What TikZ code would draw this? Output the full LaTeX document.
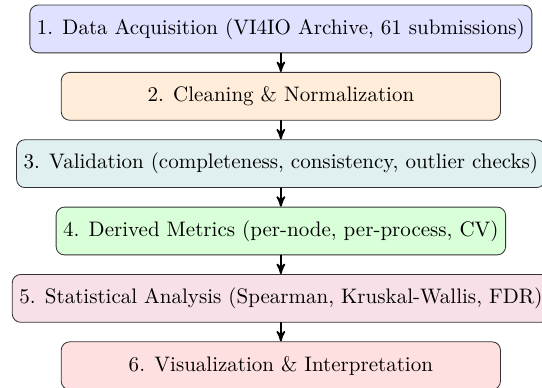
\documentclass[tikz,border=0pt]{standalone}
\usepackage{xcolor}
\usetikzlibrary{arrows}

\begin{document}
\begin{tikzpicture}[line cap=round,line join=round,>=stealth',
  stage/.style={draw=black!80,rounded corners=4pt,minimum width=7.35cm,minimum height=0.8cm}]
\useasboundingbox (-4.70,0.485) rectangle (4.37,-5.995);
\node[stage,fill=blue!12] (acq) at (0,0) {1. Data Acquisition (VI4IO Archive, 61 submissions)};
\node[stage,fill=orange!15] (clean) at (0,-1.127) {2. Cleaning \& Normalization};
\node[stage,fill=teal!12] (valid) at (0,-2.254) {3. Validation (completeness, consistency, outlier checks)};
\node[stage,fill=green!15] (metrics) at (0,-3.381) {4. Derived Metrics (per-node, per-process, CV)};
\node[stage,fill=purple!12] (stats) at (0,-4.508) {5. Statistical Analysis (Spearman, Kruskal-Wallis, FDR)};
\node[stage,fill=red!12] (vis) at (0,-5.635) {6. Visualization \& Interpretation};
\foreach \a/\b in {acq/clean,clean/valid,valid/metrics,metrics/stats,stats/vis}
\draw[->,thick] (\a) -- (\b);
\end{tikzpicture}
\end{document}
